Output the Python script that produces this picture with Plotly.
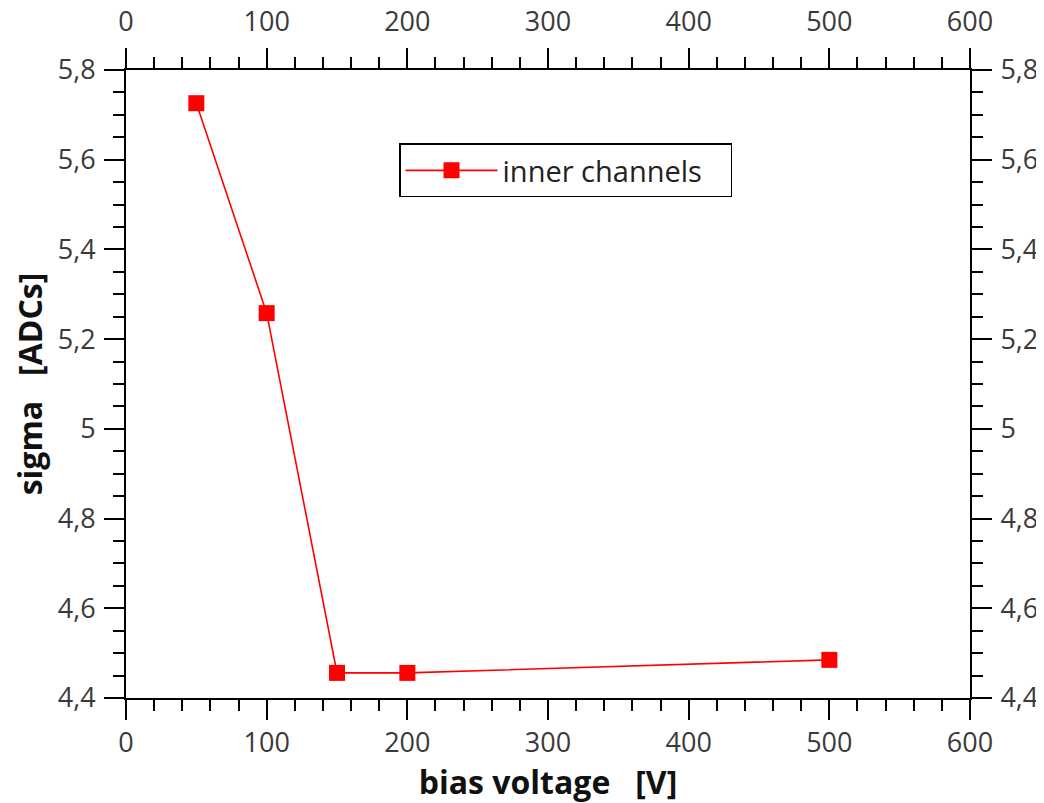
import plotly.graph_objects as go

bias_voltage = [50, 100, 150, 200, 500]
sigma_inner = [5.726, 5.258, 4.456, 4.456, 4.485]
series_name = "inner channels"

x_ticks = [0, 100, 200, 300, 400, 500, 600]
y_ticks = [4.4, 4.6, 4.8, 5.0, 5.2, 5.4, 5.6, 5.8]

RED = "#ff0000"
FAM = "Open Sans, DejaVu Sans, sans-serif"
TICKFONT = dict(family=FAM, size=27, color="#3a3a3a")
TITLEFONT = dict(family=FAM, size=32, color="#111111", weight="bold")

# the page body has an 8px default margin, so the figure is offset by 8px
W, H = 1036, 795

fig = go.Figure()
fig.add_trace(go.Scatter(
    x=bias_voltage, y=sigma_inner, mode="lines+markers", name=series_name,
    line=dict(color=RED, width=1.6),
    marker=dict(symbol="square", size=16, color=RED),
))
# invisible trace to anchor the mirrored axes
fig.add_trace(go.Scatter(
    x=bias_voltage, y=sigma_inner, mode="markers", xaxis="x2", yaxis="y2",
    marker=dict(opacity=0), showlegend=False, hoverinfo="skip",
))

common_x = dict(range=[0, 600], tickvals=x_ticks, ticks="outside", ticklen=20, tickwidth=2,
                tickcolor="black", showline=True, linewidth=2, linecolor="black",
                showgrid=False, zeroline=False, tickfont=TICKFONT,
                automargin=False,
                minor=dict(ticks="outside", ticklen=11, tickwidth=2, tickcolor="black", dtick=20, showgrid=False))
common_y = dict(range=[4.4, 5.8], tickvals=y_ticks, ticks="outside", ticklen=20, tickwidth=2,
                tickcolor="black", showline=True, linewidth=2, linecolor="black",
                showgrid=False, zeroline=False, tickfont=TICKFONT, ticklabelstandoff=3,
                automargin=False,
                minor=dict(ticks="outside", ticklen=11, tickwidth=2, tickcolor="black", dtick=0.05, showgrid=False))

fig.update_layout(
    width=W, height=H,
    margin=dict(l=118, r=74, t=62, b=105, autoexpand=False),
    paper_bgcolor="white", plot_bgcolor="white",
    separators=", ",
    xaxis=dict(**common_x, side="bottom", ticklabelstandoff=0,
               title=dict(text="bias voltage   [V]", font=TITLEFONT, standoff=20)),
    xaxis2=dict(**common_x, side="top", overlaying="x", anchor="y", ticklabelstandoff=6),
    yaxis=dict(**common_y, side="left",
               title=dict(text="sigma   [ADCs]", font=TITLEFONT, standoff=24)),
    yaxis2=dict(**common_y, side="right", overlaying="y", anchor="x"),
    legend=dict(x=0.3235, y=0.883, xanchor="left", yanchor="top",
                orientation="h", entrywidth=223,
                bordercolor="black", borderwidth=1.5, bgcolor="white",
                font=dict(family=FAM, size=29, color="#222222"),
                itemwidth=92),
    showlegend=True,
)

fig.write_html("out.html")
